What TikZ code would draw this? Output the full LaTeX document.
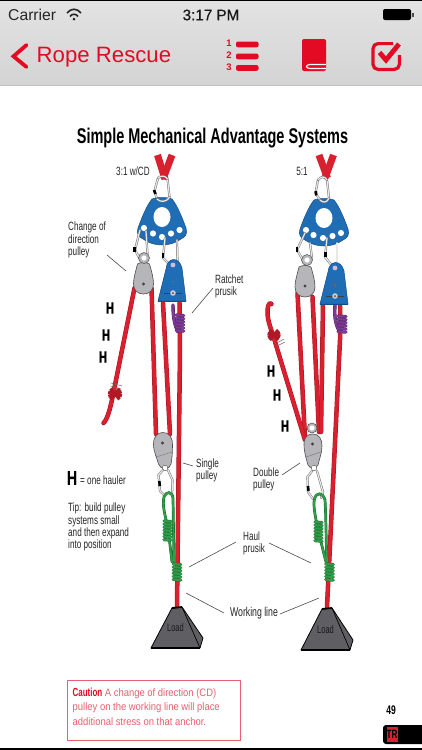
\documentclass[tikz,border=0pt]{standalone}
\usepackage{fontspec}
\setmainfont{Liberation Sans}
\newfontfamily\cond[FakeStretch=0.68]{Liberation Sans}
\newfontfamily\condb[FakeStretch=0.70,FakeBold=0.5]{Liberation Sans Bold}
\newfontfamily\caut[FakeStretch=0.875]{Liberation Sans}
\newfontfamily\medf[FakeBold=0.6]{Liberation Sans}
\definecolor{navred}{HTML}{E30B23}
\definecolor{ropered}{HTML}{D9202F}
\definecolor{ropedark}{HTML}{A81423}
\definecolor{plateblue}{HTML}{1F6DB5}
\definecolor{platedark}{HTML}{124C88}
\definecolor{greenrope}{HTML}{2E9E48}
\definecolor{greendark}{HTML}{14672C}
\definecolor{purplerope}{HTML}{7E3A96}
\definecolor{purpledark}{HTML}{4F1F66}
\definecolor{pulleygray}{HTML}{B6B6BA}
\definecolor{loadgray}{HTML}{5F5F63}
\definecolor{labelgray}{HTML}{262626}
\definecolor{cautionred}{HTML}{E8606F}
\tikzset{
  rope/.style={draw=ropedark,double=ropered,double distance=3.5pt,line width=0.5pt,line cap=round,line join=round},
  greenr/.style={draw=greendark,double=greenrope,double distance=1.9pt,line width=0.4pt,line cap=round},
  purpler/.style={draw=purpledark,double=purplerope,double distance=2.6pt,line width=0.4pt,line cap=round},
  carab/.style={draw=gray!90!black,double=gray!18,double distance=1.2pt,line width=0.5pt,line cap=round,line join=round},
  gatecol/.style={draw=black,line width=2.6pt},
  leader/.style={draw=black!70,line width=0.6pt},
  lab/.style={font=\cond\fontsize{12}{12.2}\selectfont,text=labelgray,align=left,inner sep=0pt},
  hh/.style={font=\condb\fontsize{16.5}{16.5}\selectfont,text=black,inner sep=0pt},
  navicon/.style={fill=navred,draw=none}
}
\newcommand{\plateshape}[1]{%
 \begin{scope}[shift={(#1)}]
  \fill[plateblue,draw=platedark,line width=0.5pt] (-10,-18) .. controls (-5,-20) and (5,-20) .. (10,-18) .. controls (15,-12) and (20,0) .. (24,11) .. controls (26,17) and (23,20) .. (19,22) .. controls (8,30) and (-8,30) .. (-19,22) .. controls (-23,20) and (-26,17) .. (-24,11) .. controls (-20,0) and (-15,-12) .. (-10,-18) -- cycle;
  \fill[white] (0,0) ellipse [x radius=8.5,y radius=10];
 \end{scope}}
\newcommand{\ph}[1]{\fill[white] (#1) circle (3.1);}
\newcommand{\coil}[5]{% x y width n colour
 \foreach \k in {1,...,#4}{\draw[#5!75!black,line width=3.2pt,line cap=round] ({#1-#3/2},{#2+(\k-1)*3.1}) -- ({#1+#3/2},{#2+(\k-1)*3.1+0.6});}
 \foreach \k in {1,...,#4}{\draw[#5,line width=2pt,line cap=round] ({#1-#3/2},{#2+(\k-1)*3.1}) -- ({#1+#3/2},{#2+(\k-1)*3.1+0.6});}}
\newcommand{\pearpulley}[2]{% pear-shaped change-of-direction pulley
 \begin{scope}[shift={(#1)}]
  \fill[pulleygray,draw=black!70,line width=0.6pt] (-6,-16) .. controls (-8,-8) and (-10,-2) .. (-10,4) .. controls (-10,11) and (-5,14) .. (0,14) .. controls (6,14) and (10,10) .. (10,4) .. controls (10,-2) and (8,-9) .. (6,-16) .. controls (3,-18) and (-3,-18) .. (-6,-16) -- cycle;
  \fill[gray!55!black] (0,#2) circle (1.7);
 \end{scope}}
\newcommand{\bluebody}[1]{%
 \begin{scope}[shift={(#1)}]
  \fill[plateblue,draw=platedark,line width=0.5pt] (-7,10) .. controls (-6,-2) and (6,-3) .. (9,9) -- (13,42) -- (-15,42) -- cycle;
  \draw[platedark,line width=1.5pt] (-15,42.5) -- (13,42.5);
  \fill[white!65!purplerope] (0,6) circle (2.4);
  \draw[black!75,line width=0.7pt] (-9,34) -- (9,34);
  \fill[gray!40] (0,34) circle (2.8);
  \fill[black!70] (0,34) circle (1);
  \draw[black!60,line width=0.5pt] (0,22) -- (0,26) (-2,22) -- (2,22);
 \end{scope}}
\begin{document}
\begin{tikzpicture}[x=1pt,y=-1pt]
\useasboundingbox (0,0) rectangle (422,750);
\fill[white] (0,0) rectangle (422,750);
% ---- header
\shade[top color=black!11,bottom color=black!17] (0,0) rectangle (422,85);
\fill[black] (0,0) rectangle (422,1);
\draw[black!25,line width=0.5pt] (0,85) -- (422,85);
\node[anchor=west,inner sep=0pt,font=\fontsize{15.7}{16}\selectfont,text=black!85] (carrier) at (8,15) {Carrier};
\draw[black!85,line width=1.6pt] (67,13) .. controls (71,8) and (77,8) .. (81,13);
\draw[black!85,line width=1.6pt] (70,16.5) .. controls (72,13.5) and (76,13.5) .. (78,16.5);
\fill[black!85] (74,19) circle (1.5);
\node[inner sep=0pt,font=\medf\fontsize{15.2}{16}\selectfont,text=black!90] (clock) at (211,15) {3:17 PM};
\fill[black,rounded corners=2pt] (383,9) rectangle (411,20);
\fill[black!70] (412,12.5) rectangle (414,16.5);
\draw[navred,line width=3.8pt,line cap=round,line join=miter] (26.5,45) -- (13.5,56.3) -- (26.5,67);
\node[anchor=west,inner sep=0pt,font=\fontsize{22.2}{24}\selectfont,text=navred] (back) at (36.5,57) {Rope Rescue};
\foreach \yy/\tt in {43/1,55.5/2,67/3}{\node[inner sep=0pt,font=\bfseries\fontsize{9.5}{9.5}\selectfont,text=navred] (num\tt) at (229,\yy) {\tt};}
\foreach \yy in {41.5,53.5,65}{\fill[navred,rounded corners=2pt] (236,\yy) rectangle (258.5,\yy+5.8);}
\fill[navred,rounded corners=2pt] (302,39) rectangle (326,71);
\draw[white,line width=1.2pt] (326,64.5) -- (310,64.5) .. controls (305.5,64.5) and (305.5,68.5) .. (310,68.5) -- (326,68.5);
\draw[navred,line width=3.2pt,rounded corners=5pt] (393,43.6) -- (373,43.6) -- (373,69.4) -- (399.4,69.4) -- (399.4,55);
\draw[navred,line width=4.8pt,line join=miter] (379.5,52.5) -- (386,60) -- (399,44);
% ---- title
\node[inner sep=0pt,font=\cond\bfseries\fontsize{21.3}{22}\selectfont,text=black] (title) at (212.5,138) {Simple Mechanical Advantage Systems};

% ---- LEFT SYSTEM
\draw[ropered,line width=7pt] (157.5,155) -- (165,179);
\draw[ropered,line width=7pt] (172,155) -- (163,179);
\draw[carab] (158,178) -- (154.5,191) -- (157,199);
\draw[carab] (167.5,179) -- (169.5,197);
\plateshape{162,217}
\ph{144,228}\ph{153,233.5}\ph{162,237}\ph{171,233.5}\ph{179.5,230}
\draw[carab] (158,178) .. controls (161,175) and (166,176) .. (167.5,179);
\draw[carab] (157,199) .. controls (160,202) and (166,203) .. (169.5,197);
\draw[gatecol] (154,190) -- (155.5,194);
% ropes left
\draw[rope] (134.5,288) -- (113,395) .. controls (110,410) and (107,420) .. (103.5,423);
\draw[rope] (151.5,288) -- (156,434);
\draw[rope] (163,303) -- (170,434);
\draw[rope] (179.5,303) -- (180,350) -- (177,607);
% carabiners left
\draw[carab] (140,230) -- (135,250) -- (141,261);
\draw[carab] (146,231) -- (147.5,254);
\draw[gatecol] (134.4,247) -- (134.4,251.5);
\draw[carab] (165,238) -- (163,258) -- (172,267);
\draw[carab] (177,240) -- (177.5,262);
\draw[gatecol] (163,253) -- (163,257.5);
\pearpulley{143.5,280}{4}
\fill[pulleygray,draw=black!70,line width=0.5pt] (144,258) circle (5.5);
\fill[white] (144,258) circle (2.6);
% purple prusik left
\draw[purpler] (173,305) .. controls (173,318) and (175,326) .. (178,332);
\bluebody{173,259}
\coil{180}{315}{7.5}{6}{purplerope}
% knot left
\draw[black!60,line width=0.5pt] (111,383) -- (122,386) (110.5,386) -- (121,389);
\foreach \a in {-50,-15,20,50}{\draw[ropered!80!black,line width=3.2pt,rotate around={\a:(115,394)}] (108,394) -- (122,394);}
% single pulley
\fill[pulleygray,draw=black!70,line width=0.6pt] (153.5,444) .. controls (153.5,436) and (158,432.5) .. (163,432.5) .. controls (169,432.5) and (172.5,437) .. (172.5,445) .. controls (172.5,452) and (172,460) .. (171,464) .. controls (170,470) and (160,470) .. (158.5,464) .. controls (157,458) and (153.5,452) .. (153.5,444) -- cycle;
\draw[black!50,line width=0.5pt] (156,457) -- (172,452);
\fill[gray!50!black] (162.5,443) circle (1.7);
\fill[white,draw=black!60,line width=0.5pt] (165,468) circle (2.8);
\draw[carab] (163,470) -- (158.5,475) -- (160,491) -- (165,496);
\draw[carab] (168,470) -- (172.5,480) -- (172,495);
\draw[gatecol] (159.3,481) -- (159.8,486);
% green left
\draw[greenr] (172,562) -- (168,528) .. controls (165,515) and (162,505) .. (164,497) .. controls (166,491) and (172,491) .. (173,498) -- (174,562);
\coil{167.5}{521}{7}{7}{greenrope}
% prusik left
\coil{177}{564}{7.5}{6}{greenrope}
% load left
\fill[loadgray,draw=black,line width=0.8pt,line join=round] (172,608) -- (182,607) -- (203,638) -- (200,648) -- (151,648) -- cycle;
\draw[black,line width=0.7pt] (182,607) -- (200,648);
\draw[black,line width=1.6pt] (151,648) -- (200,648);
\draw[black,line width=1.8pt] (172,608) -- (182,607);
\node[inner sep=0pt,font=\cond\fontsize{11}{11}\selectfont,text=black!90] (loadA) at (175.5,628) {Load};

% ---- RIGHT SYSTEM
\draw[ropered,line width=7pt] (319,155) -- (327.5,178);
\draw[ropered,line width=7pt] (333.5,155) -- (325,178);
\plateshape{324,218}
\ph{306,230}\ph{313.5,235}\ph{323,238}\ph{332.5,236}\ph{341,233}
\draw[carab] (318,180) -- (315.5,193) -- (320,200);
\draw[carab] (327,180) -- (329,198);
\draw[carab] (318,180) .. controls (321,176) and (325,176) .. (327,180);
\draw[carab] (320,200) .. controls (323,203) and (327,203) .. (329,198);
\draw[gatecol] (315.8,191) -- (316.2,195.5);
% ropes right
\draw[rope] (297.5,293) -- (305,438) ;
\draw[rope] (312.5,297) -- (319,432);
\draw[rope] (323,305) -- (321,432);
\draw[rope] (340,305) -- (340,340) -- (327,607);
\draw[rope] (305,440) -- (276,345) .. controls (272,330) and (267,322) .. (267.5,310) .. controls (268,304) and (270,302) .. (271.5,304);
% carabiners right
\draw[carab] (305,233) -- (297,250) -- (303,260);
\draw[carab] (310,243) -- (312,258);
\draw[gatecol] (297,247) -- (297,251.5);
\draw[carab] (327,238) -- (325,257) -- (333,267);
\draw[carab] (337,243) -- (337,264);
\draw[gatecol] (325.2,252) -- (325.2,256.5);
\pearpulley{305,283}{3}
\fill[pulleygray,draw=black!70,line width=0.5pt] (307,260) circle (5.5);
\fill[white] (307,260) circle (2.6);
\draw[purpler] (335,305) .. controls (334,318) and (336,326) .. (340,332);
\bluebody{335,262}
\coil{342}{316}{8}{6}{purplerope}
% knot right
\foreach \a in {-50,-15,20,50}{\draw[ropered!80!black,line width=3.2pt,rotate around={\a:(274,335)}] (267.5,335) -- (280.5,335);}
\draw[black!60,line width=0.5pt] (275,344) -- (284,339) (277,346) -- (285,342);
% double pulley
\fill[pulleygray,draw=black!70,line width=0.5pt] (312,428) circle (5);
\fill[white] (312,428) circle (2.6);
\fill[pulleygray,draw=black!70,line width=0.6pt] (304,444) .. controls (304,436) and (309,434) .. (313,434) .. controls (319,434) and (322,439) .. (322,446) .. controls (322,453) and (319,460) .. (318,465) .. controls (316,469) and (310,469) .. (308,465) .. controls (306,458) and (304,452) .. (304,444) -- cycle;
\draw[black!50,line width=0.5pt] (306,457) -- (321,452);
\fill[gray!50!black] (312.5,444) circle (1.7);
\fill[white,draw=black!60,line width=0.5pt] (314,468) circle (2.8);
\draw[carab] (312,471) -- (307.5,477) -- (308,492) -- (313,499);
\draw[carab] (317,471) -- (323,492) -- (321,498);
\draw[gatecol] (308,486) -- (308.4,491);
% green right
\draw[greenr] (326,562) -- (318,530) .. controls (315,515) and (313,505) .. (314.5,499) .. controls (316,492) and (323,492) .. (325,500) .. controls (326,515) and (326,540) .. (327,562);
\coil{318.5}{522}{7}{7}{greenrope}
% prusik right
\coil{329.5}{564}{7.5}{6}{greenrope}
% load right
\fill[loadgray,draw=black,line width=0.8pt,line join=round] (322,609) -- (332,608) -- (353,640) -- (350,650) -- (301,650) -- cycle;
\draw[black,line width=0.7pt] (332,608) -- (350,650);
\draw[black,line width=1.6pt] (301,650) -- (350,650);
\draw[black,line width=1.8pt] (322,609) -- (332,608);
\node[inner sep=0pt,font=\cond\fontsize{11}{11}\selectfont,text=black!90] (loadB) at (325.5,630) {Load};

% ---- LABELS
\node[lab,anchor=center] (ratioA) at (133,171) {3:1 w/CD};
\node[lab,anchor=center] (ratioB) at (302,171) {5:1};
\node[lab,anchor=west] (cdlabel) at (68,240) {Change of\\direction\\pulley};
\node[lab,anchor=west] (ratchet) at (215,286) {Ratchet\\prusik};
\node[lab,anchor=west] (single) at (196,470) {Single\\pulley};
\node[lab,anchor=west] (double) at (253,479.5) {Double\\pulley};
\node[lab,anchor=west] (haul) at (243,543) {Haul\\prusik};
\node[lab,anchor=center,font=\cond\fontsize{12.8}{13}\selectfont] (working) at (254,613) {Working line};
\node[lab,anchor=west] (tip) at (68,527) {Tip: build pulley\\systems small\\and then expand\\into position};
\node[hh] (ha) at (110,308) {H};
\node[hh] (hb) at (106,335) {H};
\node[hh] (hc) at (103,357) {H};
\node[hh] (hd) at (271,371) {H};
\node[hh] (he) at (277,395) {H};
\node[hh] (hf) at (285,426) {H};
\node[hh,font=\condb\fontsize{20}{20}\selectfont] (hkey) at (72,478) {H};
\node[lab,anchor=west] (hkeytext) at (80,480) {= one hauler};
% leaders
\coordinate (l1a) at (107,255); \coordinate (l1b) at (126,271);
\coordinate (l2a) at (213,288); \coordinate (l2b) at (192,313);
\coordinate (l3a) at (193,466); \coordinate (l3b) at (183,463);
\coordinate (l4a) at (282,475); \coordinate (l4b) at (300,463);
\coordinate (l5a) at (236,542); \coordinate (l5b) at (189,567);
\coordinate (l6a) at (269,543); \coordinate (l6b) at (311,563);
\coordinate (l7a) at (224,613); \coordinate (l7b) at (186,593);
\coordinate (l8a) at (280,614); \coordinate (l8b) at (319,598);
\foreach \n in {1,...,8}{\draw[leader] (l\n a) -- (l\n b);}
% ---- caution
\draw[cautionred,line width=0.9pt] (67.5,680) rectangle (240,740);
\node[anchor=north west,inner sep=0pt,align=left,text=cautionred,font=\caut\fontsize{10.8}{14.6}\selectfont] (caution) at (72.5,687.5) {{\color{navred}\cond\bfseries\fontsize{11.7}{14.6}\selectfont Caution} A change of direction (CD)\\pulley on the working line will place\\additional stress on that anchor.};
% ---- footer
\node[inner sep=0pt,font=\cond\bfseries\fontsize{12.5}{12.5}\selectfont,text=black] (page) at (391,710) {49};
\fill[black,rounded corners=3pt] (383,725) rectangle (430,744);
\fill[ropered] (387,727) rectangle (397.5,742);
\node[inner sep=0pt,font=\cond\bfseries\fontsize{12}{12}\selectfont,text=black] (tr) at (392,734.5) {TR};
\fill[black] (0,748) rectangle (422,750);
\end{tikzpicture}
\end{document}
